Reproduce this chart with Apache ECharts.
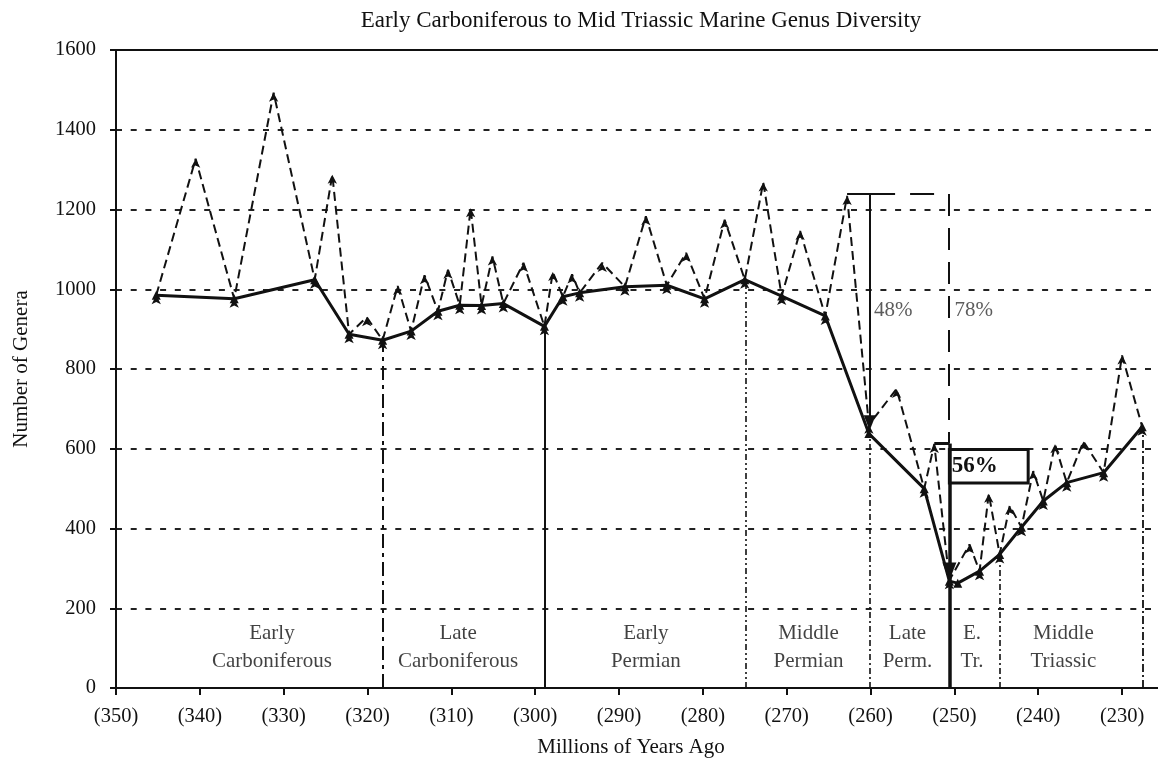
<!DOCTYPE html>
<html>
<head>
<meta charset="utf-8">
<title>Marine Genus Diversity</title>
<script src="https://cdn.jsdelivr.net/npm/echarts@6/dist/echarts.min.js"></script>
<style>
  html, body { margin: 0; padding: 0; background: #fff; }
  #main { width: 1158px; height: 763px; }
</style>
</head>
<body>
<div id="main"></div>
<script>
// ages are stored as negative Ma so that time runs left to right
const solidAges = [-345.2, -335.9, -326.3, -322.2, -318.2, -314.8, -311.6, -309.0, -306.4, -303.8,
  -298.9, -296.7, -294.7, -289.3, -284.3, -279.8, -275.0, -270.6, -265.4, -260.2,
  -253.6, -250.6, -249.6, -247.0, -244.6, -242.0, -239.4, -236.6, -232.2, -227.6]
const solidGenera = [985, 976, 1024, 887, 872, 895, 945, 960, 959, 964,
  907, 981, 991, 1006, 1010, 976, 1024, 983, 933, 638,
  500, 268, 263, 293, 335, 403, 469, 515, 540, 655]

const dashedAges = [-345.2, -340.5, -335.9, -331.2, -326.3, -324.2, -322.2, -320.1, -318.2, -316.4,
  -314.8, -313.2, -311.6, -310.4, -309.0, -307.7, -306.4, -305.1, -303.8, -301.4,
  -298.9, -297.9, -296.7, -295.6, -294.7, -292.0, -289.3, -286.8, -284.3, -282.0,
  -279.8, -277.4, -275.0, -272.8, -270.6, -268.4, -265.4, -262.8, -260.2, -256.9,
  -253.6, -252.4, -250.6, -248.2, -247.0, -245.9, -244.6, -243.4, -242.0, -240.6,
  -239.4, -238.0, -236.6, -234.6, -232.2, -230.0, -227.6]
const dashedGenera = [985, 1327, 976, 1493, 1024, 1287, 887, 930, 872, 1008,
  895, 1035, 945, 1049, 960, 1203, 959, 1082, 964, 1066,
  907, 1043, 981, 1037, 991, 1066, 1006, 1183, 1010, 1091,
  976, 1174, 1024, 1268, 983, 1146, 933, 1234, 660, 750,
  500, 612, 270, 360, 293, 487, 335, 457, 403, 544,
  469, 611, 515, 618, 540, 834, 655]

// stage boundaries: age and the genus count where the line stops
const boundaryAges = [-318.2, -298.9, -274.9, -260.1, -244.6, -227.5]
const boundaryTops = [872, 907, 1024, 638, 335, 655]

const periodNames = ['Early\nCarboniferous', 'Late\nCarboniferous', 'Early\nPermian', 'Middle\nPermian',
  'Late\nPerm.', 'E.\nTr.', 'Middle\nTriassic']
const periodCenters = [-331.4, -309.2, -286.8, -267.4, -255.6, -247.9, -237.0]
const periodLevel = 102

// annotations
const drop48 = { age: -260.1, from: 1239, to: 665, barFrom: -262.8 }
const drop78 = { age: -250.7, top: 1239, bottom: 613 }
const drop56 = { fromAge: -252.4, age: -250.6, top: 613, tip: 292 }
const box56 = { ages: [-250.6, -241.2], genera: [598, 514], text: '56%' }
const noteTexts = ['48%', '78%']
const noteAges = [-259.6, -250.0]
const noteGenera = [948, 948]

const serif = '"Liberation Serif", "Times New Roman", serif'
const ink = '#111'

const chart = echarts.init(document.getElementById('main'))

const pairs = (xs, ys) => xs.map((x, i) => [x, ys[i]])

const boundaryStyles = [
  { width: 2, type: [14, 5, 4, 5] },
  { width: 2, type: 'solid' },
  { width: 1.6, type: [6, 3, 2, 3, 2, 3] },
  { width: 1.6, type: [6, 3, 2, 3] },
  { width: 1.6, type: [6, 3, 2, 3] },
  { width: 1.8, type: [8, 3, 2, 3] }
]

const boundaryLines = boundaryAges.map((a, i) => [
  { coord: [a, 0], symbol: 'none' },
  { coord: [a, boundaryTops[i]], symbol: 'none', lineStyle: Object.assign({ color: ink }, boundaryStyles[i]) }
])

const noteLines = [
  // 48% arrow
  [{ coord: [drop48.age, drop48.from], symbol: 'none' },
    { coord: [drop48.age, drop48.to], symbol: 'triangle', symbolSize: [12, 15], lineStyle: { color: ink, width: 2, type: 'solid' } }],
  // bracket across the top to the 78% line
  [{ coord: [drop48.barFrom, drop78.top], symbol: 'none' },
    { coord: [drop78.age, drop78.top], symbol: 'none', lineStyle: { color: ink, width: 2, type: [48, 15, 24, 15] } }],
  [{ coord: [drop78.age, drop78.top], symbol: 'none' },
    { coord: [drop78.age, drop78.bottom], symbol: 'none', lineStyle: { color: ink, width: 2, type: [22, 12] } }],
  // 56% drop
  [{ coord: [drop56.fromAge, drop56.top], symbol: 'none' },
    { coord: [drop56.age, drop56.top], symbol: 'none', lineStyle: { color: ink, width: 3, type: 'solid' } }],
  [{ coord: [drop56.age, drop56.top], symbol: 'none' },
    { coord: [drop56.age, drop56.tip], symbol: 'triangle', symbolSize: [14, 18], lineStyle: { color: ink, width: 3.5, type: 'solid' } }],
  [{ coord: [drop56.age, drop56.tip], symbol: 'none' },
    { coord: [drop56.age, 0], symbol: 'none', lineStyle: { color: ink, width: 3.5, type: 'solid' } }]
]

const option = {
  animation: false,
  backgroundColor: '#fff',
  title: {
    text: 'Early Carboniferous to Mid Triassic Marine Genus Diversity',
    left: 636,
    textAlign: 'center',
    top: 4,
    textStyle: { fontFamily: serif, fontSize: 23, fontWeight: 'normal', color: ink }
  },
  grid: { left: 116, top: 50, width: 1048, height: 638, outerBoundsMode: 'none', containLabel: false },
  xAxis: [{
    type: 'value',
    min: -350,
    max: -225,
    interval: 10,
    name: 'Millions of Years Ago',
    nameLocation: 'middle',
    nameGap: 49,
    nameTextStyle: { fontFamily: serif, fontSize: 21, color: ink, padding: [0, 18, 0, 0] },
    axisLine: { onZero: false, lineStyle: { color: ink, width: 2 } },
    axisTick: { length: 7, lineStyle: { color: ink, width: 2 } },
    axisLabel: {
      margin: 18, fontFamily: serif, fontSize: 20.5, color: ink, showMaxLabel: false,
      formatter: v => '(' + Math.abs(v) + ')'
    },
    splitLine: { show: false }
  }, {
    type: 'value',
    position: 'top',
    min: -350,
    max: -225,
    axisLine: { show: true, onZero: false, lineStyle: { color: ink, width: 2 } },
    axisTick: { show: false },
    axisLabel: { show: false },
    splitLine: { show: false }
  }],
  yAxis: {
    type: 'value',
    min: 0,
    max: 1600,
    interval: 200,
    name: 'Number of Genera',
    nameLocation: 'middle',
    nameGap: 84,
    nameTextStyle: { fontFamily: serif, fontSize: 21, color: ink },
    axisLine: { show: true, onZero: false, lineStyle: { color: ink, width: 2 } },
    axisTick: { show: true, length: 6, lineStyle: { color: ink, width: 2 } },
    axisLabel: { margin: 20, fontFamily: serif, fontSize: 20.5, color: ink, formatter: v => String(v) },
    splitLine: { show: true, lineStyle: { color: '#222', width: 1.8, type: [6, 8.7] } }
  },
  series: [
    {
      name: 'dashed',
      type: 'line',
      data: pairs(dashedAges, dashedGenera),
      symbol: 'arrow',
      symbolSize: [7, 9],
      itemStyle: { color: ink },
      lineStyle: { color: ink, width: 2, type: [9, 5] },
      z: 3
    },
    {
      name: 'solid',
      type: 'line',
      data: pairs(solidAges, solidGenera),
      symbol: 'triangle',
      symbolSize: 9,
      itemStyle: { color: ink },
      lineStyle: { color: ink, width: 3 },
      z: 4,
      markLine: {
        silent: true,
        label: { show: false },
        data: boundaryLines.concat(noteLines)
      },
      markArea: {
        silent: true,
        itemStyle: { color: 'rgba(0,0,0,0)', borderColor: ink, borderWidth: 3 },
        label: {
          show: true, position: 'insideLeft', distance: 4,
          fontFamily: serif, fontSize: 23, fontWeight: 'bold', color: ink
        },
        data: [[
          { name: box56.text, coord: [box56.ages[0], box56.genera[0]] },
          { coord: [box56.ages[1], box56.genera[1]] }
        ]]
      }
    },
    {
      name: 'periods',
      type: 'scatter',
      silent: true,
      symbolSize: 0,
      data: periodNames.map((n, i) => [periodCenters[i], periodLevel, n]),
      label: {
        show: true, position: 'inside', formatter: p => p.data[2],
        fontFamily: serif, fontSize: 21, lineHeight: 28, color: ink
      },
      z: 5
    },
    {
      name: 'notes',
      type: 'scatter',
      silent: true,
      symbolSize: 0,
      data: noteTexts.map((t, i) => [noteAges[i], noteGenera[i], t]),
      label: {
        show: true, position: 'right', distance: 0, formatter: p => p.data[2],
        fontFamily: serif, fontSize: 21, color: '#333'
      },
      z: 5
    }
  ]
}

chart.setOption(option)
</script>
</body>
</html>
